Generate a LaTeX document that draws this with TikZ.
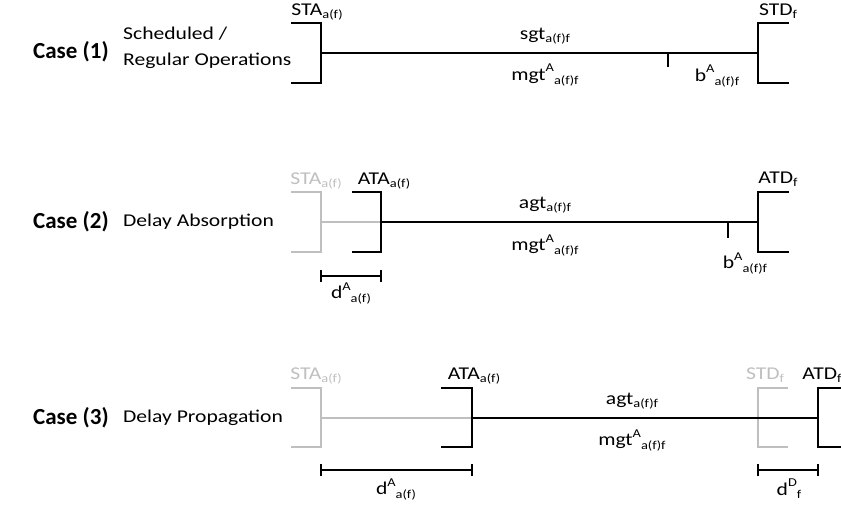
\documentclass[tikz,border=0pt]{standalone}
\usepackage{fontspec}
\setmainfont{Carlito}
\newfontfamily\wfont[FakeStretch=1.2]{Carlito}
\definecolor{lgray}{HTML}{BFBFBF}
\newcommand{\lsub}[1]{\raisebox{-0.4ex}{\fontsize{12}{13}\selectfont #1}}
\newcommand{\lsup}[1]{\raisebox{1.0ex}{\fontsize{12}{13}\selectfont #1}}
\begin{document}
\begin{tikzpicture}[x=1pt,y=-1pt,
  blk/.style={line width=1.7pt,black},
  gry/.style={line width=1.7pt,lgray},
  lbl/.style={inner sep=0pt,font=\wfont\fontsize{18}{20}\selectfont},
  glbl/.style={lbl,text=lgray},
  case/.style={inner sep=0pt,anchor=west,font=\fontsize{23}{25}\selectfont\bfseries},
  desc/.style={inner sep=0pt,anchor=west,font=\wfont\fontsize{18}{20}\selectfont}]
\useasboundingbox (0,0) rectangle (841,508);
% ---------- Case 1
\node[case] (c1) at (33,52) {Case (1)};
\node[desc] (c1a) at (123,34) {Scheduled /};
\node[desc] (c1b) at (123,61) {Regular Operations};
\coordinate (a1) at (321,53);
\coordinate (d1) at (758,53);
\draw[blk] (291,23) -| (321,83) -- (291,83);
\draw[blk] (789,23) -| (758,83) -- (789,83);
\draw[blk] (a1) -- (d1);
\coordinate (t1a) at (668,53); \coordinate (t1b) at (668,67);
\draw[blk] (t1a) -- (t1b);
\node[lbl] (sta1) at (317,12) {STA\lsub{a(f)}};
\node[lbl] (std1) at (778,11) {STD\lsub{f}};
\node[lbl] (sgt1) at (545,36) {sgt\lsub{a(f)f}};
\node[lbl] (mgt1) at (545,75) {mgt\lsup{A}\lsub{a(f)f}};
\node[lbl] (b1) at (717,76) {b\lsup{A}\lsub{a(f)f}};
% ---------- Case 2
\node[case] (c2) at (33,222) {Case (2)};
\node[desc] (c2a) at (123,222) {Delay Absorption};
\coordinate (s2) at (321,222);
\coordinate (a2) at (381,222);
\coordinate (d2) at (758,222);
\draw[gry] (291,192) -| (321,252) -- (291,252);
\draw[gry] (s2) -- (a2);
\draw[blk] (352,192) -| (381,252) -- (352,252);
\draw[blk] (a2) -- (d2);
\draw[blk] (789,192) -| (758,252) -- (789,252);
\coordinate (t2a) at (728,222); \coordinate (t2b) at (728,238);
\draw[blk] (t2a) -- (t2b);
\node[glbl] (sta2) at (316,181) {STA\lsub{a(f)}};
\node[lbl] (ata2) at (384,181) {ATA\lsub{a(f)}};
\node[lbl] (atd2) at (778,179) {ATD\lsub{f}};
\node[lbl] (agt2) at (545,205) {agt\lsub{a(f)f}};
\node[lbl] (mgt2) at (545,245) {mgt\lsup{A}\lsub{a(f)f}};
\node[lbl] (b2) at (745,263) {b\lsup{A}\lsub{a(f)f}};
\coordinate (e2a) at (321,276); \coordinate (e2b) at (381,276);
\draw[blk] (e2a) -- (e2b);
\draw[blk] ([yshift=-6pt]e2a) -- ([yshift=6pt]e2a);
\draw[blk] ([yshift=-6pt]e2b) -- ([yshift=6pt]e2b);
\node[lbl] (dd2) at (351,293) {d\lsup{A}\lsub{a(f)}};
% ---------- Case 3
\node[case] (c3) at (33,418) {Case (3)};
\node[desc] (c3a) at (123,418) {Delay Propagation};
\coordinate (s3) at (321,418);
\coordinate (a3) at (472,418);
\coordinate (d3) at (818,418);
\draw[gry] (291,388) -| (321,447) -- (291,447);
\draw[gry] (s3) -- (a3);
\draw[gry] (788,388) -| (758,447) -- (788,447);
\draw[blk] (441,388) -| (472,447) -- (441,447);
\draw[blk] (a3) -- (d3);
\draw[blk] (845,388) -| (818,447) -- (845,447);
\node[glbl] (sta3) at (316,376) {STA\lsub{a(f)}};
\node[lbl] (ata3) at (474,376) {ATA\lsub{a(f)}};
\node[glbl] (std3) at (765,375) {STD\lsub{f}};
\node[lbl] (atd3) at (822,375) {ATD\lsub{f}};
\node[lbl] (agt3) at (632,401) {agt\lsub{a(f)f}};
\node[lbl] (mgt3) at (632,440) {mgt\lsup{A}\lsub{a(f)f}};
\coordinate (e3a) at (321,470); \coordinate (e3b) at (472,470);
\draw[blk] (e3a) -- (e3b);
\draw[blk] ([yshift=-6pt]e3a) -- ([yshift=6pt]e3a);
\draw[blk] ([yshift=-6pt]e3b) -- ([yshift=6pt]e3b);
\node[lbl] (dd3) at (396,489) {d\lsup{A}\lsub{a(f)}};
\coordinate (e3c) at (758,470); \coordinate (e3d) at (818,470);
\draw[blk] (e3c) -- (e3d);
\draw[blk] ([yshift=-6pt]e3c) -- ([yshift=6pt]e3c);
\draw[blk] ([yshift=-6pt]e3d) -- ([yshift=6pt]e3d);
\node[lbl] (df3) at (789,489) {d\lsup{D}\lsub{f}};
\end{tikzpicture}
\end{document}
